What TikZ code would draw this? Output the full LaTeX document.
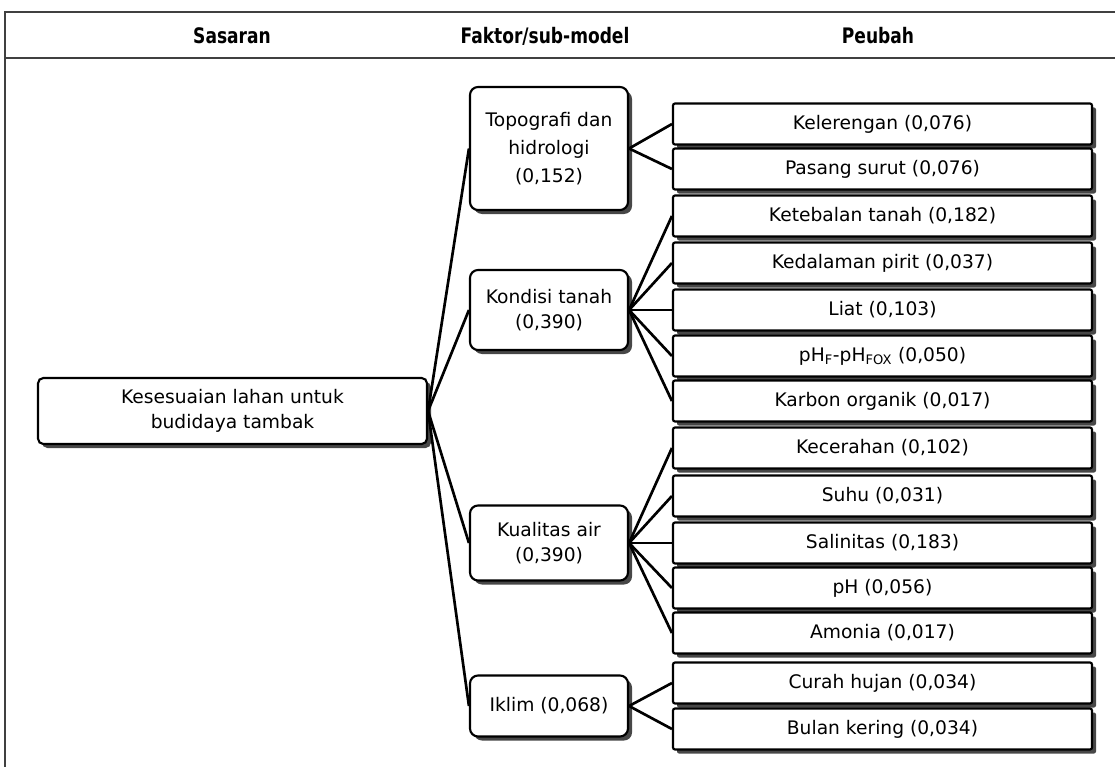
\documentclass[tikz,border=0pt]{standalone}
\usepackage{fontspec}
\setmainfont{DejaVu Sans}
\newfontfamily\hdrfont{DejaVu Sans}[FakeStretch=0.8]
\usetikzlibrary{shadows}
\tikzset{
  boxbase/.style={draw=black, line width=1.6pt, fill=white, inner sep=0pt, align=center,
    font=\fontsize{14}{18.75}\selectfont,
    drop shadow={shadow xshift=3pt, shadow yshift=-3pt, fill=black!72, opacity=1}},
  rootbox/.style={boxbase, rounded corners=4pt, minimum width=291.75pt, minimum height=49.5pt},
  facbox/.style={boxbase, rounded corners=6pt, minimum width=118.5pt},
  varbox/.style={boxbase, rounded corners=1.5pt, minimum width=314.25pt, minimum height=30.75pt},
  conn/.style={draw=black, line width=2pt},
  hdr/.style={font=\hdrfont\bfseries\fontsize{16}{19}\selectfont},
  frame/.style={draw=black!75, line width=1.6pt}
}
\begin{document}
\begin{tikzpicture}[x=0.75pt,y=-0.75pt]
\useasboundingbox (0,0) rectangle (1115,767);
% frame
\coordinate (tl) at (5,12);
\coordinate (tr) at (1115,12);
\coordinate (sl) at (5,58);
\coordinate (sr) at (1115,58);
\coordinate (bl) at (5,767);
\draw[frame] (tr) -- (tl) -- (bl);
\draw[frame] (sl) -- (sr);
% headers
\node[hdr] (h1) at (232,36) {Sasaran};
\node[hdr] (h2) at (545,36) {Faktor/sub-model};
\node[hdr] (h3) at (878,36) {Peubah};
% root
\node[rootbox] (root) at (232.5,411) {Kesesuaian lahan untuk\\budidaya tambak};
% factors
\node[facbox, minimum height=92.25pt, font=\fontsize{14}{21}\selectfont] (f1) at (549,148.5) {Topografi dan\\hidrologi\\(0,152)};
\node[facbox, minimum height=60pt] (f2) at (549,310) {Kondisi tanah\\(0,390)};
\node[facbox, minimum height=56.25pt] (f3) at (549,543) {Kualitas air\\(0,390)};
\node[facbox, minimum height=45.75pt] (f4) at (549,706) {Iklim (0,068)};
% variables
\node[varbox] (v1) at (882.5,124) {Kelerengan (0,076)};
\node[varbox] (v2) at (882.5,169) {Pasang surut (0,076)};
\node[varbox] (v3) at (882.5,216) {Ketebalan tanah (0,182)};
\node[varbox] (v4) at (882.5,263) {Kedalaman pirit (0,037)};
\node[varbox] (v5) at (882.5,310) {Liat (0,103)};
\node[varbox] (v6) at (882.5,356) {pH\textsubscript{F}-pH\textsubscript{FOX} (0,050)};
\node[varbox] (v7) at (882.5,401) {Karbon organik (0,017)};
\node[varbox] (v8) at (882.5,448) {Kecerahan (0,102)};
\node[varbox] (v9) at (882.5,496) {Suhu (0,031)};
\node[varbox] (v10) at (882.5,543) {Salinitas (0,183)};
\node[varbox] (v11) at (882.5,588) {pH (0,056)};
\node[varbox] (v12) at (882.5,633) {Amonia (0,017)};
\node[varbox] (v13) at (882.5,683) {Curah hujan (0,034)};
\node[varbox] (v14) at (882.5,729) {Bulan kering (0,034)};
% connectors
\foreach \f in {f1,f2,f3,f4} \draw[conn] (root.east) -- (\f.west);
\foreach \v in {v1,v2} \draw[conn] (f1.east) -- (\v.west);
\foreach \v in {v3,v4,v5,v6,v7} \draw[conn] (f2.east) -- (\v.west);
\foreach \v in {v8,v9,v10,v11,v12} \draw[conn] (f3.east) -- (\v.west);
\foreach \v in {v13,v14} \draw[conn] (f4.east) -- (\v.west);
\end{tikzpicture}
\end{document}
